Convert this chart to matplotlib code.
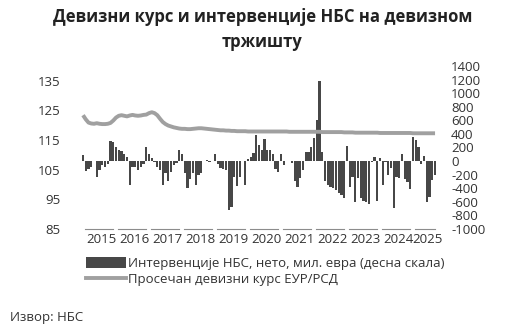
import matplotlib
matplotlib.use("Agg")
import matplotlib.pyplot as plt
import matplotlib.transforms as mtransforms
from matplotlib.lines import Line2D
from matplotlib.patches import Patch
import numpy as np

plt.rcParams["font.family"] = ["Open Sans", "DejaVu Sans"]

years = [2015, 2016, 2017, 2018, 2019, 2020, 2021, 2022, 2023, 2024, 2025]

# NBS net interventions, EUR mn, monthly (right axis)
interv_2015 = [90, -140, -120, -90, 0, -230, -130, -60, -80, -50, 290, 280]
interv_2016 = [200, 170, 150, 100, 60, -355, -85, -85, -130, -85, -40, 210]
interv_2017 = [110, 40, -20, -85, -130, -355, -180, -290, -160, -60, -35, 170]
interv_2018 = [110, -180, -390, -260, -180, -355, -210, -180, 0, 20, -10, 0]
interv_2019 = [100, -40, -100, -110, -130, -725, -675, -230, -360, -230, 0, -355]
interv_2020 = [30, 60, 120, 385, 240, 160, 320, 165, 160, 100, -110, -160]
interv_2021 = [100, -60, 0, 0, -35, -300, -380, -255, -130, 140, 140, 210]
interv_2022 = [335, 605, 1175, 140, -300, -355, -380, -400, -430, -470, -500, -550]
interv_2023 = [225, -380, -230, -600, -255, -540, -590, -600, -625, -10, 65, -590]
interv_2024 = [40, -355, -20, -205, -100, -690, -230, -255, 100, -260, -305, -405]
interv_2025 = [360, 310, 210, -50, 80, -600, -530, -280, -200]

# average EUR/RSD exchange rate, monthly (left axis)
rate_2015 = [123.4, 122.0, 120.9, 120.6, 120.5, 120.7, 120.5, 120.4, 120.4, 120.5, 120.8, 121.6]
rate_2016 = [122.6, 123.2, 123.4, 123.2, 123.0, 123.3, 123.5, 123.3, 123.2, 123.3, 123.5, 123.6]
rate_2017 = [124.1, 124.4, 124.1, 123.4, 122.2, 121.1, 120.4, 119.9, 119.6, 119.3, 119.1, 118.9]
rate_2018 = [118.8, 118.8, 118.7, 118.7, 118.8, 118.9, 119.0, 119.0, 118.9, 118.8, 118.7, 118.6]
rate_2019 = [118.5, 118.4, 118.3, 118.3, 118.2, 118.2, 118.1, 118.1, 118.0, 118.0, 118.0, 118.0]
rate_2020 = [117.9, 117.9, 117.9, 117.9, 117.9, 117.9, 117.9, 117.9, 117.9, 117.9, 117.9, 117.9]
rate_2021 = [117.9, 117.9, 117.9, 117.8, 117.8, 117.8, 117.8, 117.8, 117.8, 117.8, 117.8, 117.8]
rate_2022 = [117.8, 117.8, 117.8, 117.7, 117.7, 117.7, 117.7, 117.7, 117.7, 117.7, 117.7, 117.6]
rate_2023 = [117.6, 117.6, 117.6, 117.5, 117.5, 117.5, 117.5, 117.5, 117.5, 117.5, 117.5, 117.5]
rate_2024 = [117.4, 117.4, 117.4, 117.4, 117.4, 117.4, 117.4, 117.4, 117.4, 117.4, 117.4, 117.4]
rate_2025 = [117.3, 117.3, 117.3, 117.3, 117.3, 117.3, 117.3, 117.3, 117.3]

interv = (interv_2015 + interv_2016 + interv_2017 + interv_2018 + interv_2019 + interv_2020
          + interv_2021 + interv_2022 + interv_2023 + interv_2024 + interv_2025)
rate = (rate_2015 + rate_2016 + rate_2017 + rate_2018 + rate_2019 + rate_2020
        + rate_2021 + rate_2022 + rate_2023 + rate_2024 + rate_2025)
months_per_year = [12] * 10 + [len(interv_2025)]

left_ticks = [85, 95, 105, 115, 125, 135]
right_ticks = list(range(-1000, 1401, 200))

BAR_COLOR = "#474747"
LINE_COLOR = "#a0a0a0"

fig = plt.figure(figsize=(5.31, 3.27), dpi=100)
ax = fig.add_axes([80 / 531, 1 - 229 / 327, 360 / 531, 163 / 327])
ax2 = ax.twinx()

x = np.arange(len(interv))
ax2.bar(x, interv, width=0.85, color=BAR_COLOR, linewidth=0, zorder=1)
ax2.set_ylim(-1000, 1400)
ax2.set_yticks(right_ticks)
ax2.set_yticklabels([str(t) for t in right_ticks])

ax.set_ylim(85, 140)
ax.set_yticks(left_ticks)
ax.set_xlim(-1.1, 129.8)

# line goes on top of the bars, so it gets its own overlay axis
ax3 = ax.twinx()
ax3.set_ylim(85, 140)
ax3.plot(x, rate, color=LINE_COLOR, linewidth=2.8, solid_capstyle="butt", zorder=3)
ax3.axis("off")

for a in (ax, ax2, ax3):
    for s in a.spines.values():
        s.set_visible(False)
ax.tick_params(axis="y", length=0, pad=14, labelsize=9.5, colors="#333333")
ax2.tick_params(axis="y", length=0, pad=8, labelsize=9.5, colors="#333333")

# year groups on the x axis
trans = mtransforms.blended_transform_factory(ax.transData, ax.transAxes)
start = 0
centers = []
for yr, n in zip(years, months_per_year):
    d0, d1 = start + 0.6, start + n - 1.1
    ax.plot([d0, d1], [0, 0], transform=trans, color="#8c8c8c", linewidth=0.8,
            clip_on=False)
    centers.append((d0 + d1) / 2 + 1.0)
    start += n
ax.set_xticks(centers)
ax.set_xticklabels([str(y) for y in years])
ax.tick_params(axis="x", length=0, pad=3, labelsize=9.5, colors="#333333")

fig.text(0.494, 1 - 17 / 327, "Девизни курс и интервенције НБС на девизном",
         ha="center", va="center", fontsize=12, fontweight="bold", color="#222222")
fig.text(0.494, 1 - 42 / 327, "тржишту",
         ha="center", va="center", fontsize=12, fontweight="bold", color="#222222")

handles = [Patch(facecolor=BAR_COLOR, edgecolor="none"),
           Line2D([0], [0], color=LINE_COLOR, linewidth=2.8)]
labels = ["Интервенције НБС, нето, мил. евра (десна скала)",
          "Просечан девизни курс ЕУР/РСД"]
fig.legend(handles, labels, loc="upper left", bbox_to_anchor=(86 / 531, 1 - 257 / 327),
           frameon=False, fontsize=9.5, handlelength=3.0, handleheight=0.9,
           handletextpad=0.2, labelspacing=0.25, borderaxespad=0, borderpad=0,
           labelcolor="#333333")

fig.text(10 / 531, 1 - 317 / 327, "Извор: НБС", ha="left", va="center",
         fontsize=9.5, color="#333333")

fig.savefig("out.png", dpi=100)
